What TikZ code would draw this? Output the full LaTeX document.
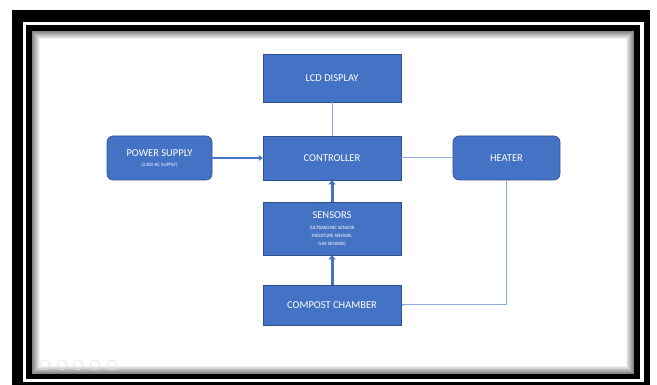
\documentclass[tikz,border=0pt]{standalone}
\usepackage{fontspec}
\setmainfont{Carlito}
\usepackage{tikz}
\usetikzlibrary{arrows.meta,positioning}

\definecolor{boxblue}{HTML}{4472C4}
\definecolor{boxedge}{HTML}{2F528F}
\definecolor{linkblue}{HTML}{8FAADC}
\newcommand\smtxt{\fontsize{5}{6}\selectfont}

\begin{document}
\begin{tikzpicture}[x=1pt,y=-1pt,
  blok/.style={draw=boxedge,fill=boxblue,text=white,line width=.6pt,inner sep=0pt,
    font=\fontsize{10.5}{12}\selectfont,rectangle,minimum width=138pt},
  rblok/.style={blok,rounded corners=6pt,minimum height=44pt},
  thin link/.style={linkblue,line width=1pt},
  fat link/.style={boxblue,line width=3pt,-{Triangle[length=4pt,width=7pt]}}]%
\useasboundingbox (0,0) rectangle (657,385);
% frame
\fill[black] (12,10) rectangle (650,385);
\fill[white] (23,22) rectangle (644,382);
\fill[black] (26,25) rectangle (640,379);
\fill[white] (32,31) rectangle (634,374);
\foreach \i in {0,...,7} {%
\pgfmathtruncatemacro\g{48-6*\i}
\draw[black!\g,line width=1pt] (32.5+\i,31.5+\i) rectangle (633.5-\i,373.5-\i);
}
% slide controls
\foreach \x in {45,62,78,95,112}
\draw[black!12,line width=.6pt] (\x,365) circle (5);
\node[blok,minimum height=48pt] (lcd) at (332,78)  {LCD DISPLAY}; %%
\node[blok,minimum height=44pt] (ctrl) at (332,158)  {CONTROLLER}; %%
\node[rblok,minimum width=105pt,align=center] (psu) at (159.5,158)  {POWER SUPPLY\\[-2pt]\smtxt (230V AC SUPPLY)}; %%
\node[rblok,minimum width=107pt] (heat) at (506.5,158)  {HEATER}; %%
\node[blok,minimum height=53pt,align=center] (sens) at (332,228.5)  {SENSORS\\[-1pt]\smtxt [ULTRASONIC SENSOR\\[-4pt]\smtxt MOISTURE SENSOR,\\[-4pt]\smtxt GAS SENSOR]}; %%
\node[blok,minimum height=40pt] (comp) at (332,305)  {COMPOST CHAMBER}; %%
\draw[thin link] (lcd)--(ctrl); %%
\draw[thin link] (ctrl)--(heat); %%
\draw[thin link,-{Stealth[length=3pt,width=3pt]}] (heat.south) |- (comp.east); %%
\draw[fat link,line width=2pt,-{Stealth[length=4pt,width=6pt]}] (psu)--(ctrl); %%
\draw[fat link] (sens)--(ctrl); %%
\draw[fat link] (comp)--(sens); %%
\end{tikzpicture}
\end{document}
